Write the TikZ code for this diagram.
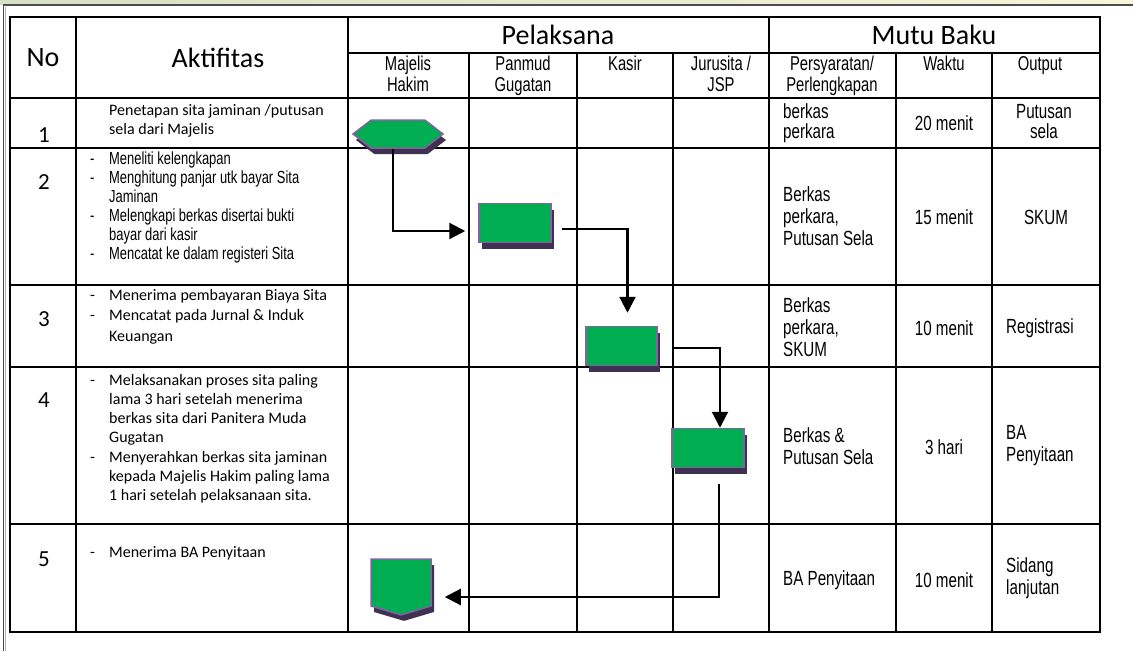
\documentclass[tikz,border=0pt]{standalone}
\usepackage{fontspec}
\setmainfont{Carlito}
\newfontfamily\narrowsans[FakeStretch=0.74]{Liberation Sans}
\usepackage{tikz}
\usetikzlibrary{positioning}
\usetikzlibrary{shapes.symbols, shadows, arrows.meta}

\definecolor{boxgreen}{RGB}{0,173,80}
\definecolor{boxborder}{RGB}{128,100,162}
\definecolor{boxshadow}{RGB}{64,49,82}
\definecolor{stripleft}{RGB}{214,224,196}
\definecolor{stripmid}{RGB}{236,238,212}
\definecolor{stripright}{RGB}{247,244,218}

\newcommand{\butir}{\makebox[19pt][l]{-}}
\newcommand{\lanjut}{\hspace*{19pt}}

\begin{document}
\begin{tikzpicture}[x=1pt,y=-1pt,
  tableline/.style={line width=2pt},
  head/.style={font=\fontsize{28}{33}\selectfont},
  sub/.style={font=\narrowsans\fontsize{20}{20.5}\selectfont, align=center, anchor=north, inner sep=0pt},
  cell/.style={font=\narrowsans\fontsize{20.5}{22}\selectfont, align=left, inner sep=0pt},
  act/.style={font=\fontsize{16}{19}\selectfont, align=left, anchor=north west, inner sep=0pt},
  num/.style={font=\fontsize{23}{27}\selectfont},
  flowshape/.style={draw=boxborder, line width=1.5pt, fill=boxgreen, inner sep=0pt,
    drop shadow={shadow xshift=3pt, shadow yshift=-6pt, fill=boxshadow, opacity=1}},
  stepbox/.style={flowshape, rectangle, minimum width=72pt, minimum height=39pt},
  flow/.style={line width=2.2pt, -{Triangle[length=16pt,width=16pt]}}]
\useasboundingbox (0,0) rectangle (1133,651);

% page frame
\shade[left color=stripleft, middle color=stripmid, right color=stripright] (0,0) rectangle (1133,4.5);
\draw[black!70, line width=1.3pt] (1133,5) -- (3.2,5) -- (3.2,651);
\draw[black!30, line width=1pt] (5.4,6.5) -- (5.4,651);

% table
\draw[tableline] (10,17) rectangle (1100,632);
\draw[tableline] (348,53) -- (1100,53);
\draw[tableline] (10,98) -- (1100,98);
\draw[tableline] (10,148) -- (1100,148);
\draw[tableline] (10,285) -- (1100,285);
\draw[tableline] (10,367) -- (1100,367);
\draw[tableline] (10,524) -- (1100,524);
\draw[tableline] (76,17) -- (76,632);
\draw[tableline] (348,17) -- (348,632);
\draw[tableline] (769,17) -- (769,632);
\draw[tableline] (469,53) -- (469,632);
\draw[tableline] (577,53) -- (577,632);
\draw[tableline] (673,53) -- (673,632);
\draw[tableline] (896,53) -- (896,632);
\draw[tableline] (992,53) -- (992,632);

% headers
\node[head] (hno) at (43,58) {No};
\node[head] (hakt) at (218,58) {Aktifitas};
\node[head] (hpel) at (558,35) {Pelaksana};
\node[head] (hmutu) at (934,35) {Mutu Baku};
\node[sub] (sub1) at (408,56) {Majelis\\Hakim};
\node[sub] (sub2) at (523,56) {Panmud\\Gugatan};
\node[sub] (sub3) at (625,56) {Kasir};
\node[sub] (sub4) at (721,56) {Jurusita /\\JSP};
\node[sub] (sub5) at (832,56) {Persyaratan/\\Perlengkapan};
\node[sub] (sub6) at (944,56) {Waktu};
\node[sub] (sub7) at (1040,56) {Output};

% row numbers
\node[num] (no1) at (44,135) {1};
\node[num] (no2) at (44,182) {2};
\node[num] (no3) at (44,319) {3};
\node[num] (no4) at (44,400) {4};
\node[num] (no5) at (44,559) {5};

% activities
\node[act] (akt1) at (109,104) {Penetapan sita jaminan /putusan\\sela dari Majelis};
\node[act, font=\narrowsans\fontsize{17.5}{19}\selectfont] (akt2) at (90,152) {\butir Meneliti kelengkapan\\\butir Menghitung panjar utk bayar Sita\\\lanjut Jaminan\\\butir Melengkapi berkas disertai bukti\\\lanjut bayar dari kasir\\\butir Mencatat ke dalam registeri Sita};
\node[act, font=\fontsize{16}{20.5}\selectfont] (akt3) at (90,289) {\butir Menerima pembayaran Biaya Sita\\\butir Mencatat pada Jurnal \& Induk\\\lanjut Keuangan};
\node[act, font=\fontsize{16}{19.2}\selectfont] (akt4) at (90,374) {\butir Melaksanakan proses sita paling\\\lanjut lama 3 hari setelah menerima\\\lanjut berkas sita dari Panitera Muda\\\lanjut Gugatan\\\butir Menyerahkan berkas sita jaminan\\\lanjut kepada Majelis Hakim paling lama\\\lanjut 1 hari setelah pelaksanaan sita.};
\node[act] (akt5) at (90,546) {\butir Menerima BA Penyitaan};

% mutu baku
\node[cell, anchor=west, font=\narrowsans\fontsize{20.5}{20}\selectfont] (req1) at (783,123) {berkas\\perkara};
\node[cell] (time1) at (944,123) {20 menit};
\node[cell, align=center, font=\narrowsans\fontsize{20.5}{20}\selectfont] (out1) at (1044,122) {Putusan\\sela};
\node[cell, anchor=west] (req2) at (783,216) {Berkas\\perkara,\\Putusan Sela};
\node[cell] (time2) at (944,217) {15 menit};
\node[cell] (out2) at (1046,217) {SKUM};
\node[cell, anchor=west] (req3) at (783,327) {Berkas\\perkara,\\SKUM};
\node[cell] (time3) at (944,328) {10 menit};
\node[cell, anchor=west] (out3) at (1006,328) {Registrasi};
\node[cell, anchor=west] (req4) at (783,446) {Berkas \&\\Putusan Sela};
\node[cell] (time4) at (944,447) {3 hari};
\node[cell, anchor=west] (out4) at (1006,446) {BA\\Penyitaan};
\node[cell, anchor=west] (req5) at (783,580) {BA Penyitaan};
\node[cell] (time5) at (944,580) {10 menit};
\node[cell, anchor=west] (out5) at (1006,578) {Sidang\\lanjutan};

% flow
\node[flowshape, signal, signal to=east and west, signal pointer angle=75,
  minimum width=90pt, minimum height=28pt] (hex) at (398,134) {};
\node[stepbox] (box1) at (515,223) {};
\node[stepbox, minimum width=71pt] (box2) at (621.5,346) {};
\node[stepbox] (box3) at (708,448) {};
\node[flowshape, signal, signal to=south, signal pointer angle=147,
  minimum width=60pt, minimum height=47pt] (pent) at (401,582.5) {};

\draw[flow, shorten >=13pt] ([xshift=-5pt]hex.south) |- ([yshift=-8pt]box1.west);
\draw[flow, shorten >=13pt] ([xshift=10pt,yshift=-6pt]box1.east) -| ([xshift=6pt]box2.north);
\draw[flow] ([xshift=14pt,yshift=-2pt]box2.east) -| ([xshift=12pt]box3.north);
\draw[flow, shorten >=13pt] ([xshift=11pt,yshift=-16pt]box3.south) |- ([yshift=-14.5pt]pent.east);

\end{tikzpicture}
\end{document}
